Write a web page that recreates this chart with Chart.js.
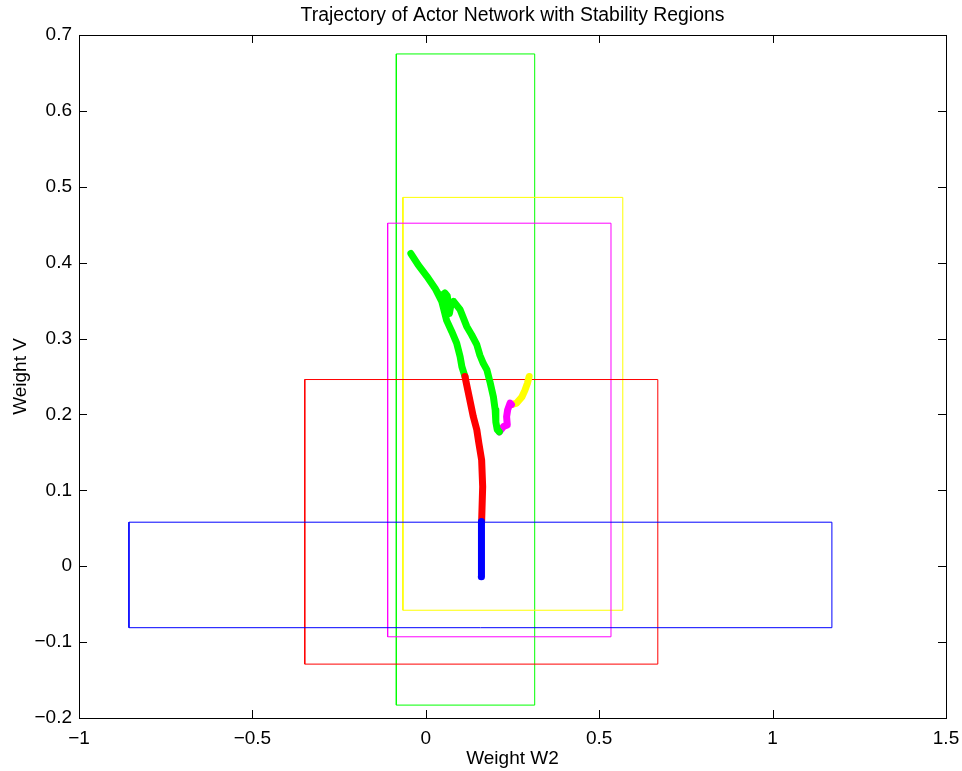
<!DOCTYPE html>
<html>
<head>
<meta charset="utf-8">
<title>Trajectory of Actor Network with Stability Regions</title>
<script src="https://cdn.jsdelivr.net/npm/chart.js@4/dist/chart.umd.min.js"></script>
<style>
  html, body { margin: 0; padding: 0; background: #fff; }
  #wrap { width: 962px; height: 771px; }
</style>
</head>
<body>
<div id="wrap"><canvas id="chart" width="962" height="771"></canvas></div>
<script>
// ── Data ──────────────────────────────────────────────────────────
const xTickLabels = ["\u22121", "\u22120.5", "0", "0.5", "1", "1.5"];
const yTickLabels = ["\u22120.2", "\u22120.1", "0", "0.1", "0.2", "0.3", "0.4", "0.5", "0.6", "0.7"];

// stability regions: [xmin, xmax, ymin, ymax]
const regionNames = ["blue", "red", "magenta", "yellow", "green"];
const regionColors = ["#0000ff", "#ff0000", "#ff00ff", "#ffff00", "#00ff00"];
const regionXMin = [-0.856, -0.349, -0.110, -0.066, -0.085];
const regionXMax = [ 1.171,  0.669,  0.534,  0.568,  0.314];
const regionYMin = [-0.081, -0.129, -0.093, -0.058, -0.183];
const regionYMax = [ 0.058,  0.246,  0.452,  0.486,  0.675];

// trajectory, split by the region it is in
const trajBlueX = [0.160, 0.160, 0.161];
const trajBlueY = [-0.014, 0.020, 0.059];

const trajRedX = [0.161, 0.164, 0.161, 0.153, 0.147, 0.137, 0.127, 0.116, 0.113];
const trajRedY = [0.059, 0.105, 0.140, 0.162, 0.180, 0.197, 0.219, 0.243, 0.250];

const trajGreenX = [0.113, 0.104, 0.099, 0.089, 0.075, 0.060, 0.051, 0.046, 0.027, 0.003, -0.022, -0.043,
                    -0.022, 0.003, 0.027, 0.041, 0.055, 0.062, 0.068, 0.072, 0.080, 0.099, 0.118, 0.132,
                    0.147, 0.156, 0.166, 0.176, 0.185, 0.195, 0.200, 0.202, 0.206, 0.212];
const trajGreenY = [0.250, 0.263, 0.276, 0.294, 0.309, 0.324, 0.340, 0.349, 0.366, 0.382, 0.397, 0.412,
                    0.397, 0.382, 0.366, 0.355, 0.360, 0.356, 0.333, 0.343, 0.349, 0.338, 0.316, 0.305,
                    0.292, 0.278, 0.267, 0.259, 0.243, 0.223, 0.206, 0.190, 0.180, 0.177];

const trajMagentaX = [0.212, 0.224, 0.235, 0.233, 0.236, 0.243, 0.247];
const trajMagentaY = [0.177, 0.184, 0.186, 0.197, 0.206, 0.215, 0.213];

const trajYellowX = [0.247, 0.262, 0.277, 0.286, 0.293, 0.298];
const trajYellowY = [0.213, 0.215, 0.223, 0.232, 0.241, 0.250];

// ── Build datasets ────────────────────────────────────────────────
const FONT = "'Liberation Sans', Arial, Helvetica, sans-serif";
const X_MIN = -1, X_MAX = 1.5, X_STEP = 0.5;
const Y_MIN = -0.2, Y_MAX = 0.7, Y_STEP = 0.1;

const zip = (xs, ys) => xs.map((x, i) => ({ x, y: ys[i] }));

const trajectory = [
  { label: "blue", color: "#0000ff", data: zip(trajBlueX, trajBlueY) },
  { label: "red", color: "#ff0000", data: zip(trajRedX, trajRedY) },
  { label: "green", color: "#00ff00", data: zip(trajGreenX, trajGreenY) },
  { label: "magenta", color: "#ff00ff", data: zip(trajMagentaX, trajMagentaY) },
  { label: "yellow", color: "#ffff00", data: zip(trajYellowX, trajYellowY) },
];

const datasets = [];

trajectory.forEach(t => {
  datasets.push({
    label: "trajectory " + t.label,
    data: t.data,
    showLine: true,
    borderColor: t.color,
    borderWidth: 7,
    borderCapStyle: "round",
    borderJoinStyle: "round",
    pointRadius: 0,
    tension: 0,
    order: 0,
  });
});

regionNames.forEach((name, i) => {
  const x0 = regionXMin[i], x1 = regionXMax[i], y0 = regionYMin[i], y1 = regionYMax[i];
  datasets.push({
    label: "region " + name,
    data: [{ x: x0, y: y0 }, { x: x1, y: y0 }, { x: x1, y: y1 }, { x: x0, y: y1 }, { x: x0, y: y0 }],
    showLine: true,
    borderColor: regionColors[i],
    borderWidth: 1,
    pointRadius: 0,
    tension: 0,
    order: 1,
  });
});

// MATLAB style box with inward ticks on all four sides
const boxPlugin = {
  id: "box",
  afterDraw(chart) {
    const { ctx, chartArea: a, scales } = chart;
    const tl = 8;
    ctx.save();
    ctx.strokeStyle = "#000";
    ctx.lineWidth = 1;
    ctx.beginPath();
    scales.x.ticks.forEach(t => {
      const px = Math.round(scales.x.getPixelForValue(t.value)) + 0.5;
      ctx.moveTo(px, a.bottom); ctx.lineTo(px, a.bottom - tl);
      ctx.moveTo(px, a.top); ctx.lineTo(px, a.top + tl);
    });
    scales.y.ticks.forEach(t => {
      const py = Math.round(scales.y.getPixelForValue(t.value)) + 0.5;
      ctx.moveTo(a.left, py); ctx.lineTo(a.left + tl, py);
      ctx.moveTo(a.right, py); ctx.lineTo(a.right - tl, py);
    });
    ctx.stroke();
    ctx.strokeRect(Math.round(a.left) + 0.5, Math.round(a.top) + 0.5,
                   Math.round(a.right - a.left), Math.round(a.bottom - a.top));
    ctx.restore();
  },
};

new Chart(document.getElementById("chart"), {
  type: "scatter",
  data: { datasets },
  plugins: [boxPlugin],
  options: {
    responsive: false,
    animation: false,
    layout: { padding: { left: 0, right: 16, top: 0, bottom: 0 } },
    plugins: {
      legend: { display: false },
      tooltip: { enabled: false },
      title: {
        display: true,
        fullSize: false,
        text: "Trajectory of Actor Network with Stability Regions",
        color: "#000",
        font: { family: FONT, size: 19.4, weight: "normal", lineHeight: 1.2 },
        padding: { top: 4, bottom: 7.7 },
      },
    },
    scales: {
      x: {
        type: "linear",
        min: X_MIN, max: X_MAX,
        afterFit: s => { s.height = 53; s.paddingLeft = 0; s.paddingRight = 0; },
        grid: { display: false, drawTicks: false },
        border: { display: false },
        ticks: {
          stepSize: X_STEP,
          color: "#000",
          padding: 9,
          maxRotation: 0,
          font: { family: FONT, size: 19 },
          callback: v => xTickLabels[Math.round((v - X_MIN) / X_STEP)],
        },
        title: {
          display: true,
          text: "Weight W2",
          color: "#000",
          font: { family: FONT, size: 19 },
          padding: { top: 0, bottom: 1 },
        },
      },
      y: {
        type: "linear",
        min: Y_MIN, max: Y_MAX,
        afterFit: s => { s.width = 79; },
        grid: { display: false, drawTicks: false },
        border: { display: false },
        ticks: {
          stepSize: Y_STEP,
          color: "#000",
          padding: 7,
          font: { family: FONT, size: 19 },
          callback: v => yTickLabels[Math.round((v - Y_MIN) / Y_STEP)],
        },
        title: {
          display: true,
          text: "Weight V",
          color: "#000",
          font: { family: FONT, size: 19 },
          padding: { top: 9, bottom: 0 },
        },
      },
    },
  },
});
</script>
</body>
</html>
